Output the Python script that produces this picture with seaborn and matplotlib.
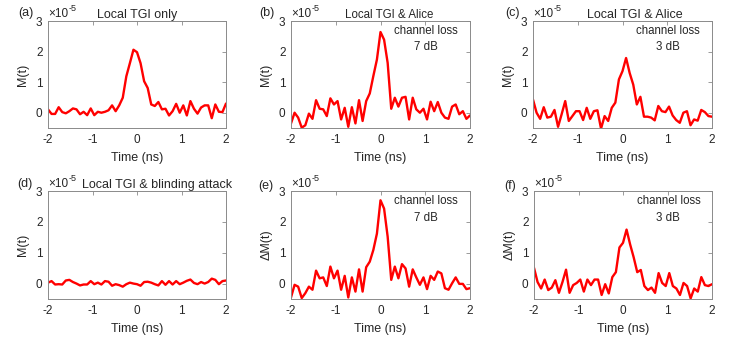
import numpy as np
import pandas as pd
import matplotlib
matplotlib.use('Agg')
import matplotlib.pyplot as plt
import seaborn as sns

# time axis (ns), 51 samples
time_ns = np.linspace(-2, 2, 51)

# signals in units of 1e-5
m_local = [0.11, -0.04, -0.04, 0.18, 0.02, -0.02, 0.05, 0.14, 0.11, -0.05,
           0.03, -0.08, 0.14, -0.08, 0.03, 0.00, 0.03, 0.08, 0.24, 0.05,
           0.24, 0.49, 1.19, 1.62, 2.06, 1.98, 1.62, 1.03, 0.81, 0.27,
           0.22, 0.35, 0.11, 0.13, -0.09, 0.05, 0.29, 0.00, 0.24, -0.09,
           0.38, 0.13, -0.03, 0.17, 0.24, 0.24, -0.18, 0.27, 0.03, 0.02, 0.30]
m_alice_7db = [-0.35, 0.00, -0.16, -0.49, -0.41, -0.03, -0.20, 0.41, 0.13, 0.11,
               -0.11, 0.47, 0.27, 0.38, -0.22, 0.16, -0.46, 0.18, -0.35, 0.41,
               -0.27, 0.38, 0.63, 1.20, 1.74, 2.64, 2.39, 1.63, 0.13, 0.49,
               0.20, 0.49, 0.52, -0.22, 0.49, 0.11, 0.00, 0.13, -0.22, 0.36,
               0.05, 0.35, 0.00, -0.16, -0.20, 0.20, 0.27, -0.05, 0.05, -0.20, -0.09]
m_alice_3db = [0.43, 0.00, -0.20, 0.18, -0.16, -0.13, 0.09, -0.46, -0.05, 0.38,
               -0.27, -0.11, 0.05, 0.05, -0.24, 0.16, -0.20, 0.05, 0.08, -0.52,
               -0.11, -0.27, 0.16, 0.33, 1.09, 1.36, 1.79, 1.30, 0.92, 0.27,
               0.52, -0.13, -0.13, -0.16, -0.25, 0.22, 0.05, 0.02, 0.20, -0.09,
               -0.24, -0.33, 0.00, 0.05, -0.41, -0.22, -0.26, 0.09, 0.02, -0.11, -0.13]
m_blinding = [0.03, 0.08, -0.03, -0.02, -0.03, 0.10, 0.12, 0.05, 0.00, -0.06,
              -0.03, -0.03, 0.08, -0.02, 0.03, -0.03, 0.08, 0.06, -0.07, -0.02,
              -0.05, -0.10, -0.02, 0.03, 0.00, -0.02, -0.07, 0.05, 0.06, 0.03,
              -0.02, -0.06, 0.08, -0.04, 0.08, -0.03, 0.08, -0.02, 0.03, 0.09,
              0.13, 0.02, -0.02, 0.05, 0.00, 0.05, 0.16, 0.12, -0.02, 0.08, 0.10]
dm_7db = [-0.45, -0.04, -0.10, -0.47, -0.31, -0.10, -0.20, 0.42, 0.17, 0.20,
          -0.08, 0.55, 0.17, 0.42, -0.20, 0.25, -0.45, 0.20, -0.26, 0.46,
          -0.26, 0.53, 0.71, 1.09, 1.62, 2.70, 2.43, 1.52, 0.12, 0.55,
          0.17, 0.63, 0.49, -0.10, 0.46, 0.20, -0.04, 0.20, -0.18, 0.25,
          0.12, 0.39, 0.33, -0.15, -0.20, 0.01, 0.20, -0.01, -0.01, -0.18, -0.15]
dm_3db = [0.51, 0.05, -0.16, 0.13, -0.21, -0.13, 0.11, -0.30, 0.05, 0.45,
          -0.30, -0.05, 0.02, 0.13, -0.26, 0.13, -0.05, 0.13, 0.13, -0.37,
          -0.02, -0.32, 0.21, 0.37, 1.17, 1.32, 1.75, 1.27, 0.85, 0.37,
          0.44, -0.08, -0.21, -0.13, -0.30, 0.34, 0.02, -0.08, 0.34, -0.08,
          -0.16, -0.37, 0.02, -0.08, -0.48, -0.16, -0.26, 0.21, -0.05, -0.08, -0.02]

panels = [
    ('(a)', 'Local TGI only', 'M(t)', m_local, None),
    ('(b)', 'Local TGI & Alice', 'M(t)', m_alice_7db, 'channel loss\n7 dB'),
    ('(c)', 'Local TGI & Alice', 'M(t)', m_alice_3db, 'channel loss\n3 dB'),
    ('(d)', 'Local TGI & blinding attack', 'M(t)', m_blinding, None),
    ('(e)', None, '\u0394M(t)', dm_7db, 'channel loss\n7 dB'),
    ('(f)', None, '\u0394M(t)', dm_3db, 'channel loss\n3 dB'),
]

sns.set_style('white')
plt.rcParams['font.family'] = ['Liberation Sans', 'DejaVu Sans']
plt.rcParams['axes.unicode_minus'] = False

W, H = 747, 342
fig = plt.figure(figsize=(W / 100, H / 100), dpi=100)

# axes boxes in pixels: left, top, right, bottom
boxes = [(48, 21, 226, 128), (291, 21, 470, 128), (533, 21, 712, 128),
         (48, 191, 226, 299), (291, 191, 470, 299), (534, 191, 712, 299)]
title_x = [0.5, 0.551, 0.571, 0.615, 0.5, 0.5]
title_size = [9, 8.3, 9, 9, 9, 9]
label_pos = [(18, 13), (259, 13), (505, 13), (17, 184), (258, 186), (504, 186)]
txt = '#262626'

for i, (tag, title, ylab, vals, note) in enumerate(panels):
    l, t, r, b = boxes[i]
    ax = fig.add_axes([l / W, 1 - b / H, (r - l) / W, (b - t) / H])
    df = pd.DataFrame({'t': time_ns, 'v': vals})
    sns.lineplot(data=df, x='t', y='v', ax=ax, color='#ff0000', linewidth=1.7)
    ax.set_xlim(-2, 2)
    ax.set_ylim(-0.5, 3)
    ax.set_xticks([-2, -1, 0, 1, 2])
    ax.set_yticks([0, 1, 2, 3])
    ax.tick_params(direction='in', length=3, width=0.6, top=True, right=True,
                   labelsize=8.5, colors='#8a8a8a', labelcolor=txt, pad=4)
    for s in ax.spines.values():
        s.set_color('#8a8a8a')
        s.set_linewidth(0.7)
    ax.set_xlabel('Time (ns)', fontsize=9, color=txt)
    ax.set_ylabel(ylab, fontsize=9, color=txt)
    ax.xaxis.set_label_coords(0.5, -0.22)
    ax.yaxis.set_label_coords(-0.105, 0.5)
    # MATLAB-style exponent label
    base = ax.text(0.0, 1.01, '\u00d710', transform=ax.transAxes,
                   ha='left', va='bottom', fontsize=8.5, color=txt)
    ax.annotate('-5', xy=(1.0, 0.95), xycoords=base, ha='left', va='center',
                fontsize=6.5, color=txt)
    if title:
        ax.set_title(title, x=title_x[i], fontsize=title_size[i], color=txt, pad=2)
    if note:
        ax.text(1.02, 2.4, note, ha='center', va='center', fontsize=8.3,
                color=txt, linespacing=1.45)
    fig.text(label_pos[i][0] / W, 1 - label_pos[i][1] / H, tag,
             ha='left', va='center', fontsize=9, color=txt)

fig.savefig('out.png', dpi=100)
